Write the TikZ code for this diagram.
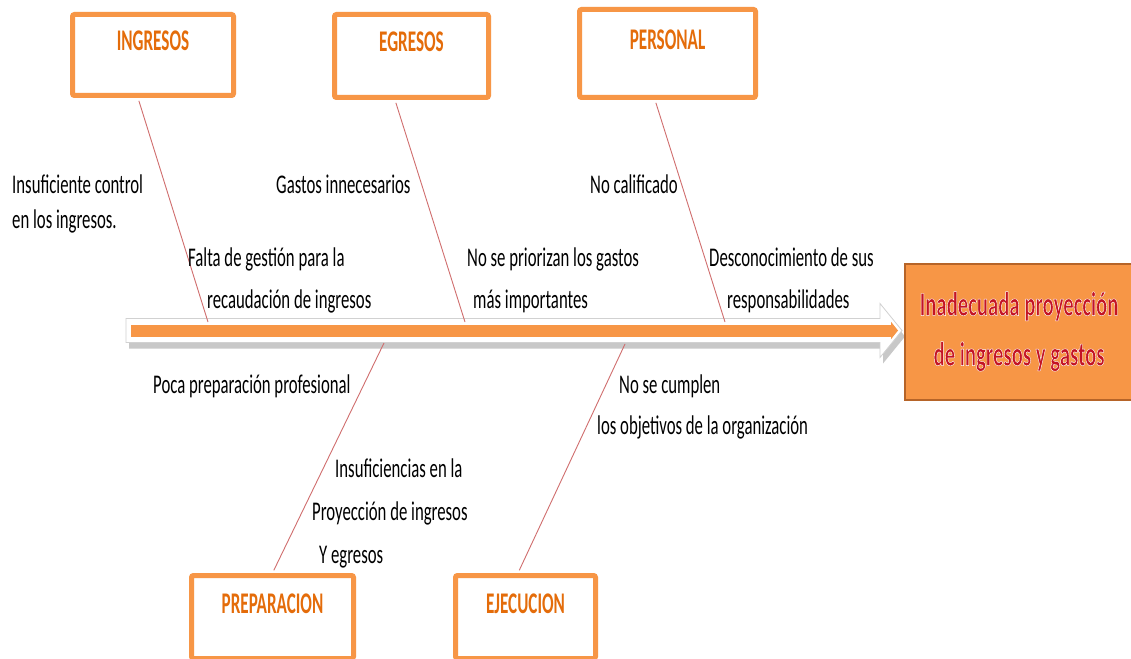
\documentclass[tikz,border=0pt]{standalone}
\usepackage{fontspec}
\setmainfont{Carlito}[FakeStretch=0.62]
\newfontfamily\titlefont{Carlito}[FakeStretch=0.57]
\newfontfamily\effectfont{Carlito}[FakeStretch=0.61]
\usepackage{tikz}
\usetikzlibrary{arrows.meta, positioning, calc, shadows}

\definecolor{boxorange}{RGB}{247,150,70}
\definecolor{titleorange}{RGB}{228,108,10}
\definecolor{effectred}{RGB}{196,20,36}
\definecolor{effectedge}{RGB}{182,100,40}
\definecolor{branchred}{RGB}{208,110,110}

% white outline round the red letters of the effect
\newcommand{\glowtext}[1]{\special{pdf:literal direct 1 1 1 RG 0.4 w 2 Tr}#1\special{pdf:literal direct 0 Tr}}

\begin{document}
\begin{tikzpicture}[
  x=1pt, y=-1pt,
  category/.style={rectangle, rounded corners=2pt, draw=boxorange, line width=5pt, fill=white,
    font=\titlefont\bfseries\fontsize{30}{30}\selectfont, text=titleorange, text height=20pt, text depth=28pt},
  cause/.style={anchor=base west, align=left, inner sep=0pt, font=\fontsize{27}{42}\selectfont},
  effect/.style={rectangle, draw=effectedge, line width=2pt, fill=boxorange, align=center,
    minimum width=229pt, minimum height=136pt, text=effectred, font=\effectfont\bfseries\fontsize{34}{50}\selectfont},
  branch/.style={draw=branchred, line width=0.9pt},
  spine/.style={fill=white, draw=black!18, line width=0.8pt,
    drop shadow={shadow xshift=3pt, shadow yshift=-6pt, opacity=.3, fill=black!70}},
  bar/.style={draw=boxorange, line width=12pt, -{Triangle[length=7pt, width=17pt]}}
]
\fill[white] (0,0) rectangle (1131,658);
\path[use as bounding box, clip] (0,0) rectangle (1131,658);

% spine
\coordinate (tail) at (126,330.5);
\coordinate (head) at (902,330.5);
\path[spine] ($(tail)+(0,-12)$) -- ($(head)+(-22,-12)$) -- ($(head)+(-22,-27)$) -- (head)
  -- ($(head)+(-22,27)$) -- ($(head)+(-22,12)$) -- ($(tail)+(0,12)$) -- cycle;
\draw[bar] ($(tail)+(5,0)$) -- ($(head)+(-4,0)$);

% categories
\node[category, minimum width=161pt, minimum height=81pt] (ingresos) at (153,55) {INGRESOS};
\node[category, minimum width=154pt, minimum height=83pt] (egresos) at (411.5,56) {EGRESOS};
\node[category, minimum width=176pt, minimum height=88pt] (personal) at (667.5,53.5) {PERSONAL};
\node[category, minimum width=162pt, minimum height=83pt] (preparacion) at (272.5,617) {PREPARACION};
\node[category, minimum width=140pt, minimum height=83pt] (ejecucion) at (525.5,617) {EJECUCION};

% branches
\coordinate (b1) at (208,322);
\coordinate (b2) at (465,322);
\coordinate (b3) at (725,322);
\coordinate (b4) at (384,343);
\coordinate (b5) at (625,344);
\draw[branch, shorten <=3pt] ([xshift=-15pt]ingresos.south) -- (b1);
\draw[branch, shorten <=3pt] ([xshift=-16.5pt]egresos.south) -- (b2);
\draw[branch, shorten <=3pt] ([xshift=-12.5pt]personal.south) -- (b3);
\draw[branch, shorten >=3pt] (b4) -- (preparacion.north);
\draw[branch, shorten >=3pt] (b5) -- ([xshift=-7.5pt]ejecucion.north);

% causes
\node[cause, font=\fontsize{27}{35}\selectfont] (c11) at (12,228) {Insuficiente control\\en los ingresos.};
\node[cause] (c12) at (188,308) {Falta de gestión para la\\\hspace*{19pt}recaudación de ingresos};
\node[cause] (c21) at (276,193) {Gastos innecesarios};
\node[cause] (c22) at (467,308) {No se priorizan los gastos\\\hspace*{6pt}más importantes};
\node[cause] (c31) at (590,193) {No calificado};
\node[cause] (c32) at (709,308) {Desconocimiento de sus\\\hspace*{18pt}responsabilidades};
\node[cause] (c41) at (153,393) {Poca preparación profesional};
\node[cause, font=\fontsize{27}{43}\selectfont] (c42) at (312,563) {\hspace*{23pt}Insuficiencias en la\\Proyección de ingresos\\\hspace*{7pt}Y egresos};
\node[cause, font=\fontsize{27}{41}\selectfont] (c51) at (597,434) {\hspace*{22pt}No se cumplen\\los objetivos de la organización};

% effect
\node[effect] (effect) at (1019,331.5) {\glowtext{Inadecuada proyección}\\\glowtext{de ingresos y gastos}};

\end{tikzpicture}
\end{document}
